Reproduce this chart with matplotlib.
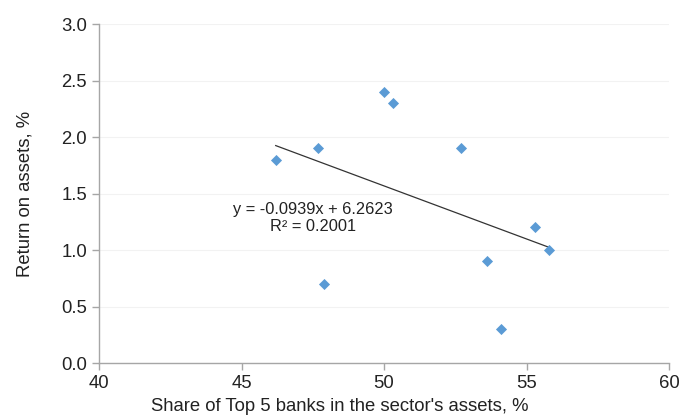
import matplotlib
matplotlib.use("Agg")
import matplotlib.pyplot as plt
import numpy as np

plt.rcParams['font.family'] = ['Liberation Sans', 'DejaVu Sans']

share_top5 = [46.2, 47.7, 47.9, 50.0, 50.3, 52.7, 53.6, 54.1, 55.3, 55.8]
roa = [1.8, 1.9, 0.7, 2.4, 2.3, 1.9, 0.9, 0.3, 1.2, 1.0]
slope = -0.0939
intercept = 6.2623
r_squared = 0.2001
x_ticks = [40, 45, 50, 55, 60]
y_ticks = [0.0, 0.5, 1.0, 1.5, 2.0, 2.5, 3.0]

fig = plt.figure(figsize=(6.79, 4.16), dpi=100)
ax = fig.add_axes([0.1458, 0.1274, 0.8395, 0.8149])

ax.set_xlim(40, 60)
ax.set_ylim(0, 3.0)
ax.set_xticks(x_ticks)
ax.set_yticks(y_ticks)
ax.set_yticklabels([f"{v:.1f}" for v in y_ticks])
ax.set_xticklabels([str(v) for v in x_ticks])

ax.grid(axis='y', color='#f2f2f2', linewidth=0.8)
ax.set_axisbelow(True)
for s in ['top', 'right']:
    ax.spines[s].set_visible(False)
for s in ['left', 'bottom']:
    ax.spines[s].set_color('#a6a6a6')
    ax.spines[s].set_linewidth(1.0)
ax.tick_params(axis='both', colors='#a6a6a6', labelcolor='#222222', labelsize=13.3, length=5, width=1.0)

ax.scatter(share_top5, roa, marker='D', s=32, color='#5b9bd5', zorder=3, linewidths=0)

xfit = np.array([min(share_top5), max(share_top5)])
ax.plot(xfit, slope * xfit + intercept, color='#333333', linewidth=0.9, zorder=2)

ax.text(47.5, 1.28, f"y = {slope}x + {intercept}\nR² = {r_squared:.4f}",
        ha='center', va='center', fontsize=11.8, color='#222222', linespacing=1.15)

ax.set_xlabel("Share of Top 5 banks in the sector's assets, %", fontsize=13.3, color='#222222')
ax.xaxis.set_label_coords(0.422, -0.103)
ax.set_ylabel("Return on assets, %", fontsize=13.3, color='#222222', labelpad=20)

fig.savefig("out.png", dpi=100)
